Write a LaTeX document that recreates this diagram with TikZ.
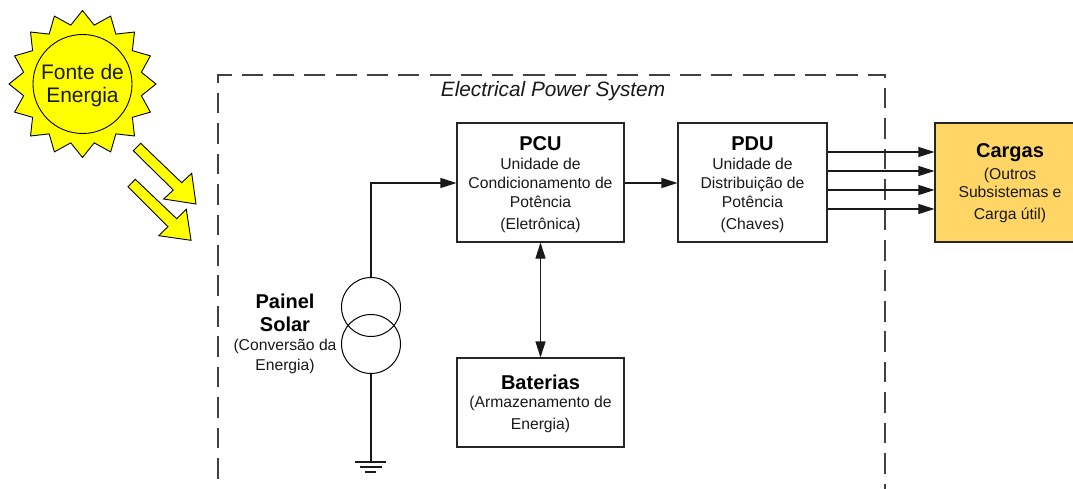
\documentclass[tikz,border=0pt]{standalone}
\usepackage{fontspec}
\setmainfont{Liberation Sans}
\usetikzlibrary{arrows.meta}
\definecolor{sun}{RGB}{255,255,0}
\definecolor{carga}{RGB}{255,214,102}
\newcommand{\fsz}[1]{\fontsize{#1}{#1}\selectfont}
\newcommand{\ttl}[1]{{\fsz{20}\bfseries #1}}
\tikzset{
  blockbox/.style={draw=black!85,line width=1.1pt,inner sep=0pt},
  conn/.style={line width=1.1pt,draw=black!90},
  arr/.style={conn,-{Triangle[length=16pt,width=10pt]}},
  darr/.style={conn,{Triangle[length=16pt,width=10pt]}-{Triangle[length=16pt,width=10pt]}},
  sunshape/.style={draw=black,line width=0.9pt,fill=sun,line join=miter},
  coil/.style={circle,draw=black,line width=1pt,minimum size=59pt,inner sep=0pt},
  lbl/.style={align=center,inner sep=0pt,font=\fsz{15.7},text=black!90},
  bound/.style={draw=black!75,line width=1.1pt,line cap=rect},
}
\begin{document}
\begin{tikzpicture}[x=1pt,y=-1pt]
\useasboundingbox (0,0) rectangle (1073,489);
% sun
\fill[white] (0,0) rectangle (1073,489);
\draw[sunshape] (82.5+73.5,84)
  \foreach \i in {0,...,15} {
    -- ({82.5+60*cos(\i*22.5+11.25)},{84+60*sin(\i*22.5+11.25)})
    -- ({82.5+73.5*cos(\i*22.5+22.5)},{84+73.5*sin(\i*22.5+22.5)})
  } -- cycle;
\node[circle,draw=black,line width=0.9pt,fill=sun,minimum size=99pt,inner sep=0pt,font=\fsz{21},text=black!90] (fonte) at (82.5,84) {};
\node[align=center,inner sep=0pt,font=\fsz{21},text=black!90] (fontet) at (82.5,85.5) {Fonte de\\[2pt]Energia};
% rays
\draw[sunshape] (133.3,150.7) -- (140.7,143.3) -- (181.7,182.7) -- (191.7,173.3) -- (196,204) -- (163.7,199) -- (173.3,190) -- cycle;
\draw[sunshape] (128,186.7) -- (135.3,179.3) -- (176.7,218.7) -- (186.3,209.3) -- (191,240.3) -- (158.7,235.7) -- (168,226.7) -- cycle;
% system boundary
\draw[bound,dash pattern=on 19.5pt off 10.95pt,dash phase=12.15pt] (218,75) -- (218,489);
\draw[bound,dash pattern=on 20pt off 11.3pt,dash phase=7pt] (218,75) -- (885,75);
\draw[bound,dash pattern=on 19.5pt off 10.95pt,dash phase=17.15pt] (885,75) -- (885,489);
\node[inner sep=0pt,font=\fsz{20.8}\itshape,text=black!90] (eps) at (553,91.5) {Electrical Power System};
% blocks
\node[blockbox,minimum width=167pt,minimum height=119pt] (pcu) at (540.5,182.5) {};
\node[blockbox,minimum width=149pt,minimum height=119pt] (pdu) at (752.5,182.5) {};
\node[blockbox,minimum width=167pt,minimum height=89pt] (bat) at (540.5,402.5) {};
\node[blockbox,fill=carga,minimum width=140pt,minimum height=119pt] (cargas) at (1005,182.5) {};
% block texts
\node[inner sep=0pt] (pcut) at (540.5,144) {\ttl{PCU}};
\node[lbl] (pcus) at (540.5,182.5) {Unidade de\\[3.3pt]Condicionamento de\\[3.3pt]Potência};
\node[lbl] (pcue) at (540.5,225) {(Eletrônica)};
\node[inner sep=0pt] (pdut) at (752.5,144) {\ttl{PDU}};
\node[lbl] (pdus) at (752.5,182.5) {Unidade de\\[3.3pt]Distribuição de\\[3.3pt]Potência};
\node[lbl] (pdue) at (752.5,225) {(Chaves)};
\node[inner sep=0pt] (batt) at (540.5,382) {\ttl{Baterias}};
\node[lbl] (bats) at (540.5,414.5) {(Armazenamento de\\[7pt]Energia)};
\node[inner sep=0pt] (cart) at (1010,153) {\ttl{Cargas}};
\node[lbl] (cars) at (1010,183) {(Outros\\[2.3pt]Subsistemas e};
\node[lbl] (carc) at (1010,215) {Carga útil)};
% solar panel
\node[coil] (c1) at (371,307) {};
\node[coil] (c2) at (371,344) {};
\node[inner sep=0pt] (pan1) at (285,301) {\ttl{Painel}};
\node[inner sep=0pt] (pan2) at (285,324) {\ttl{Solar}};
\node[lbl] (pan3) at (285,356) {(Conversão da\\[4.3pt]Energia)};
% ground
\coordinate (g) at (371,462);
\draw[conn] (355,462) -- (386,462);
\draw[conn] (360,467) -- (382,467);
\draw[conn] (365,472) -- (376,472);
% connectors
\draw[arr] (c1.north) |- (pcu.west |- 0,183);
\draw[conn] (c2.south) -- (g);
\draw[arr] (pcu.east |- 0,183) -- (pdu.west |- 0,183);
\draw[darr] (pcu.south) -- (bat.north);
\foreach \y in {152,171,190,209} \draw[arr] (pdu.east |- 0,\y) -- (cargas.west |- 0,\y);
\end{tikzpicture}
\end{document}
